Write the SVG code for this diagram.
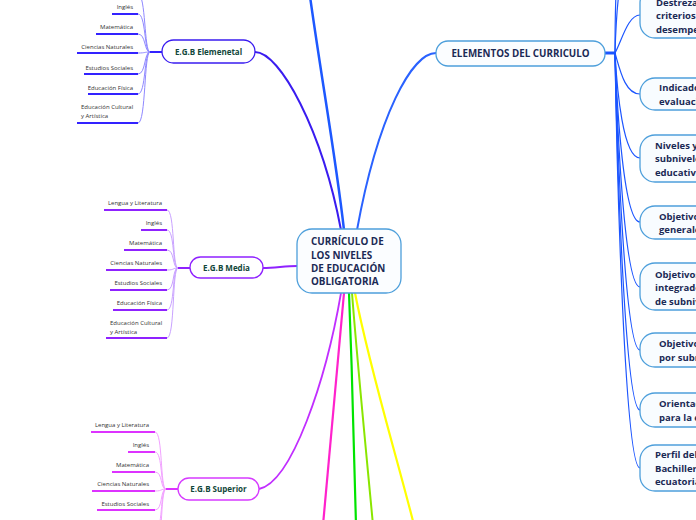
<svg xmlns="http://www.w3.org/2000/svg" width="696" height="520" viewBox="0 0 696 520">
<style>
.nt{font-family:"Open Sans","Noto Sans",sans-serif;font-weight:bold;fill:#1b2a55}
.rn{fill:#f8fcff;stroke:#4d9fdb;stroke-width:1.3}
.rt{font-size:9.5px}
.lt{font-family:"Open Sans","Noto Sans",sans-serif;font-size:6px;fill:#333}
.gt{font-family:"Open Sans","Noto Sans",sans-serif;font-weight:bold;font-size:8px;fill:#12473a;text-anchor:middle}
.c1{fill:none;stroke:#8f88ff;stroke-width:1}
.u1{stroke:#3322ff;stroke-width:2}
.c2{fill:none;stroke:#c9a2ff;stroke-width:1}
.u2{stroke:#8f22ff;stroke-width:2}
.c3{fill:none;stroke:#f2a2ff;stroke-width:1}
.u3{stroke:#dd33ff;stroke-width:2}
.rb{fill:none;stroke:#1c55ff;stroke-width:1.2}
</style>
<g id="connectors">
  <path d="M255,52 C280,52 322,130 341,230" fill="none" stroke="#3a1cf0" stroke-width="2"/>
  <path d="M344,230 C335,150 318,60 305,-40" fill="none" stroke="#1d58ff" stroke-width="2.5"/>
  <path d="M436,53 C412,53 378,115 357,230" fill="none" stroke="#2a62ff" stroke-width="2"/>
  <path d="M263,268 C275,268 285,266 297,266" fill="none" stroke="#8f22ff" stroke-width="2"/>
  <path d="M259,489 C292,482 326,380 341,293" fill="none" stroke="#c12eff" stroke-width="1.8"/>
  <path d="M344,293 C338,360 330,440 323,525" fill="none" stroke="#ff22cc" stroke-width="2.2"/>
  <path d="M349,293 C352,370 354,440 356,525" fill="none" stroke="#00e400" stroke-width="2.2"/>
  <path d="M352,293 C358,370 366,450 373,525" fill="none" stroke="#8ae600" stroke-width="2"/>
  <path d="M355,293 C370,370 395,450 414,525" fill="none" stroke="#ffff00" stroke-width="2.2"/>
  <path d="M605,53 L616,53" stroke="#1c55ff" stroke-width="3"/>
  <path class="rb" d="M615,53 C616,20 618,-50 640,-60"/>
  <path class="rb" d="M615,53 C615,10 615,-100 640,-120"/>
  <path class="rb" d="M615,53 C622,40 628,15 640,15"/>
  <path class="rb" d="M615,53 C620,70 625,94 640,94"/>
  <path class="rb" d="M615,53 C617,90 623,158 640,158"/>
  <path class="rb" d="M615,53 C617,110 624,222 640,222"/>
  <path class="rb" d="M615,53 C617,120 624,287 640,287"/>
  <path class="rb" d="M615,53 C617,140 625,350 640,350"/>
  <path class="rb" d="M615,53 C617,160 625,410 640,410"/>
  <path class="rb" d="M615,53 C617,180 625,468 640,468"/>
  <path d="M150,52 L162,52" stroke="#3322ff" stroke-width="2"/>
  <path class="c1" d="M138,-6 C146,-6 144,52 150,52"/>
  <path class="c1" d="M138,14 C146,14 144,52 150,52"/>
  <path class="c1" d="M138,34 C146,34 144,52 150,52"/>
  <path class="c1" d="M138,53 C146,53 144,52 150,52"/>
  <path class="c1" d="M138,74 C146,74 144,52 150,52"/>
  <path class="c1" d="M138,94 C146,94 144,52 150,52"/>
  <path class="c1" d="M138,123 C146,123 144,52 150,52"/>
  <line class="u1" x1="112" y1="14" x2="138" y2="14"/>
  <line class="u1" x1="96" y1="34" x2="138" y2="34"/>
  <line class="u1" x1="77" y1="53" x2="138" y2="53"/>
  <line class="u1" x1="84" y1="74" x2="138" y2="74"/>
  <line class="u1" x1="88" y1="94" x2="138" y2="94"/>
  <line class="u1" x1="77" y1="123" x2="138" y2="123"/>
  <path d="M178,268 L190,268" stroke="#8f22ff" stroke-width="2"/>
  <path class="c2" d="M167,210 C175,210 172,268 178,268"/>
  <path class="c2" d="M167,230 C175,230 172,268 178,268"/>
  <path class="c2" d="M167,250 C175,250 172,268 178,268"/>
  <path class="c2" d="M167,270 C175,270 172,268 178,268"/>
  <path class="c2" d="M167,290 C175,290 172,268 178,268"/>
  <path class="c2" d="M167,310 C175,310 172,268 178,268"/>
  <path class="c2" d="M167,338 C175,338 172,268 178,268"/>
  <line class="u2" x1="104" y1="210" x2="167" y2="210"/>
  <line class="u2" x1="141" y1="230" x2="167" y2="230"/>
  <line class="u2" x1="124" y1="250" x2="167" y2="250"/>
  <line class="u2" x1="106" y1="270" x2="167" y2="270"/>
  <line class="u2" x1="110" y1="290" x2="167" y2="290"/>
  <line class="u2" x1="113" y1="310" x2="167" y2="310"/>
  <line class="u2" x1="106" y1="338" x2="167" y2="338"/>
  <path d="M166,489 L178,489" stroke="#dd33ff" stroke-width="2"/>
  <path class="c3" d="M155,432 C163,432 160,489 166,489"/>
  <path class="c3" d="M155,452 C163,452 160,489 166,489"/>
  <path class="c3" d="M155,472 C163,472 160,489 166,489"/>
  <path class="c3" d="M155,491 C163,491 160,489 166,489"/>
  <path class="c3" d="M155,510 C163,510 160,489 166,489"/>
  <path class="c3" d="M155,532 C163,532 160,489 166,489"/>
  <path class="c3" d="M155,555 C163,555 160,489 166,489"/>
  <line class="u3" x1="91" y1="432" x2="155" y2="432"/>
  <line class="u3" x1="128" y1="452" x2="155" y2="452"/>
  <line class="u3" x1="112" y1="472" x2="155" y2="472"/>
  <line class="u3" x1="92" y1="491" x2="155" y2="491"/>
  <line class="u3" x1="97" y1="510" x2="155" y2="510"/>
</g>
<g id="center">
  <rect x="297" y="229" width="104" height="64" rx="15" fill="#fbfdff" stroke="#4d9fdb" stroke-width="1.3"/>
  <text class="nt" font-size="9.9" x="311"><tspan x="311" y="245">CURRÍCULO DE</tspan><tspan x="311" y="258.5">LOS NIVELES</tspan><tspan x="311" y="272">DE EDUCACIÓN</tspan><tspan x="311" y="285">OBLIGATORIA</tspan></text>
</g>
<g id="elementos">
  <rect x="436" y="41" width="169" height="25" rx="12" fill="#fbfdff" stroke="#4d9fdb" stroke-width="1.3"/>
  <text class="nt" font-size="9.8" x="520.5" y="56.8" text-anchor="middle">ELEMENTOS DEL CURRICULO</text>
</g>
<g id="destrezas">
  <rect class="rn" x="640" y="-12" width="130" height="50" rx="15"/>
  <text class="nt rt"><tspan x="656" y="6">Destrezas con</tspan><tspan x="656" y="19">criterios de</tspan><tspan x="656" y="32.5">desempeño</tspan></text>
</g>
<g id="indicadores">
  <rect class="rn" x="640" y="78" width="130" height="32" rx="15"/>
  <text class="nt rt"><tspan x="659" y="91">Indicadores de</tspan><tspan x="659" y="104.5">evaluación</tspan></text>
</g>
<g id="niveles">
  <rect class="rn" x="640" y="135" width="130" height="47" rx="15"/>
  <text class="nt rt"><tspan x="655" y="148.5">Niveles y</tspan><tspan x="655" y="162">subniveles</tspan><tspan x="655" y="176">educativos</tspan></text>
</g>
<g id="obj-generales">
  <rect class="rn" x="640" y="206" width="130" height="33" rx="15"/>
  <text class="nt rt"><tspan x="659" y="220">Objetivos</tspan><tspan x="659" y="233">generales</tspan></text>
</g>
<g id="obj-integradores">
  <rect class="rn" x="640" y="263" width="130" height="47" rx="15"/>
  <text class="nt rt"><tspan x="655" y="277.5">Objetivos</tspan><tspan x="655" y="291">integradores</tspan><tspan x="655" y="304.5">de subnivel</tspan></text>
</g>
<g id="obj-subnivel">
  <rect class="rn" x="640" y="333" width="130" height="34" rx="15"/>
  <text class="nt rt"><tspan x="659" y="347">Objetivos</tspan><tspan x="659" y="360.5">por subnivel</tspan></text>
</g>
<g id="orientaciones">
  <rect class="rn" x="640" y="393" width="130" height="34" rx="15"/>
  <text class="nt rt"><tspan x="659" y="407">Orientaciones</tspan><tspan x="659" y="420.5">para la evaluación</tspan></text>
</g>
<g id="perfil">
  <rect class="rn" x="640" y="445" width="130" height="46" rx="15"/>
  <text class="nt rt"><tspan x="655" y="458">Perfil del</tspan><tspan x="655" y="471.5">Bachiller</tspan><tspan x="655" y="485">ecuatoriano</tspan></text>
</g>
<g id="egb-elemenetal">
  <rect x="162" y="40" width="93" height="23" rx="11.5" fill="#fff" stroke="#3a1cf0" stroke-width="1.3"/>
  <text class="gt" x="208.5" y="55">E.G.B Elemenetal</text>
</g>
<g id="elemenetal-leaves" class="lt" text-anchor="end">
  <text x="133" y="9">Inglés</text>
  <text x="133" y="29">Matemática</text>
  <text x="133" y="49">Ciencias Naturales</text>
  <text x="133" y="69.5">Estudios Sociales</text>
  <text x="133" y="89.5">Educación Física</text>
  <text text-anchor="start"><tspan x="81" y="109">Educación Cultural</tspan><tspan x="81" y="117.5">y Artística</tspan></text>
</g>
<g id="egb-media">
  <rect x="190" y="257" width="73" height="21" rx="10.5" fill="#fff" stroke="#8f22ff" stroke-width="1.3"/>
  <text class="gt" x="226.5" y="270.5">E.G.B Media</text>
</g>
<g id="media-leaves" class="lt" text-anchor="end">
  <text x="162" y="205">Lengua y Literatura</text>
  <text x="162" y="225">Inglés</text>
  <text x="162" y="245">Matemática</text>
  <text x="162" y="265">Ciencias Naturales</text>
  <text x="162" y="285">Estudios Sociales</text>
  <text x="162" y="305">Educación Física</text>
  <text text-anchor="start"><tspan x="110" y="325">Educación Cultural</tspan><tspan x="110" y="333.5">y Artística</tspan></text>
</g>
<g id="egb-superior">
  <rect x="178" y="478" width="81" height="22" rx="11" fill="#fff" stroke="#d63bff" stroke-width="1.3"/>
  <text class="gt" x="218.5" y="492">E.G.B Superior</text>
</g>
<g id="superior-leaves" class="lt" text-anchor="end">
  <text x="149" y="426.5">Lengua y Literatura</text>
  <text x="149" y="446.5">Inglés</text>
  <text x="149" y="466.5">Matemática</text>
  <text x="149" y="485.5">Ciencias Naturales</text>
  <text x="149" y="505.5">Estudios Sociales</text>
</g>
</svg>
